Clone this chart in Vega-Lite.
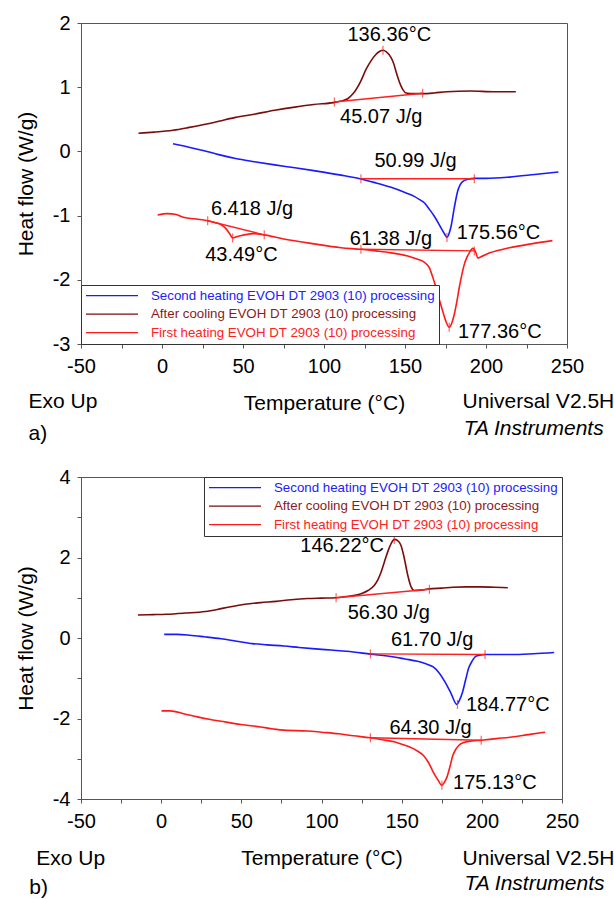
{
  "$schema": "https://vega.github.io/schema/vega-lite/v6.json",
  "padding": {"left": 14, "top": 12, "right": 0, "bottom": 0},
  "spacing": 21,
  "datasets": {
    "curvesA": [
      {"s":"cooling","T":-14.5,"v":0.283},{"s":"cooling","T":-5,"v":0.30},{"s":"cooling","T":6.8,"v":0.33},{"s":"cooling","T":16,"v":0.37},{"s":"cooling","T":26,"v":0.42},{"s":"cooling","T":35,"v":0.47},{"s":"cooling","T":45.4,"v":0.53},{"s":"cooling","T":57,"v":0.58},{"s":"cooling","T":69.6,"v":0.64},{"s":"cooling","T":82,"v":0.69},{"s":"cooling","T":93.7,"v":0.73},{"s":"cooling","T":105.8,"v":0.76},{"s":"cooling","T":110,"v":0.78},{"s":"cooling","T":114.6,"v":0.82},{"s":"cooling","T":118,"v":0.90},{"s":"cooling","T":122.8,"v":1.10},{"s":"cooling","T":126,"v":1.28},{"s":"cooling","T":129,"v":1.41},{"s":"cooling","T":132,"v":1.51},{"s":"cooling","T":134.5,"v":1.56},{"s":"cooling","T":136.4,"v":1.575},{"s":"cooling","T":138.5,"v":1.55},{"s":"cooling","T":141.4,"v":1.46},{"s":"cooling","T":143,"v":1.37},{"s":"cooling","T":144.4,"v":1.25},{"s":"cooling","T":146,"v":1.12},{"s":"cooling","T":147.5,"v":1.02},{"s":"cooling","T":149,"v":0.95},{"s":"cooling","T":150.6,"v":0.91},{"s":"cooling","T":155,"v":0.90},{"s":"cooling","T":161,"v":0.90},{"s":"cooling","T":168,"v":0.91},{"s":"cooling","T":175.8,"v":0.93},{"s":"cooling","T":190.3,"v":0.94},{"s":"cooling","T":205,"v":0.93},{"s":"cooling","T":218.4,"v":0.93},
      {"s":"second","T":6.8,"v":0.12},{"s":"second","T":16,"v":0.07},{"s":"second","T":26,"v":0.01},{"s":"second","T":35,"v":-0.05},{"s":"second","T":45.4,"v":-0.11},{"s":"second","T":57,"v":-0.16},{"s":"second","T":69.6,"v":-0.21},{"s":"second","T":82,"v":-0.255},{"s":"second","T":93.7,"v":-0.30},{"s":"second","T":110.5,"v":-0.37},{"s":"second","T":122.8,"v":-0.43},{"s":"second","T":132,"v":-0.49},{"s":"second","T":141.4,"v":-0.56},{"s":"second","T":150,"v":-0.64},{"s":"second","T":155.7,"v":-0.70},{"s":"second","T":159,"v":-0.75},{"s":"second","T":161.9,"v":-0.80},{"s":"second","T":165,"v":-0.90},{"s":"second","T":168.1,"v":-1.01},{"s":"second","T":172.2,"v":-1.19},{"s":"second","T":174.5,"v":-1.29},{"s":"second","T":175.9,"v":-1.34},{"s":"second","T":177.2,"v":-1.28},{"s":"second","T":178.4,"v":-1.17},{"s":"second","T":180.4,"v":-0.88},{"s":"second","T":182.5,"v":-0.62},{"s":"second","T":184,"v":-0.52},{"s":"second","T":185.6,"v":-0.47},{"s":"second","T":188.7,"v":-0.435},{"s":"second","T":192.8,"v":-0.42},{"s":"second","T":200,"v":-0.42},{"s":"second","T":214.5,"v":-0.40},{"s":"second","T":230,"v":-0.36},{"s":"second","T":244.7,"v":-0.32},
      {"s":"first","T":-2.7,"v":-0.99},{"s":"first","T":3.5,"v":-0.97},{"s":"first","T":8,"v":-0.98},{"s":"first","T":13.8,"v":-1.03},{"s":"first","T":20,"v":-1.05},{"s":"first","T":28.2,"v":-1.08},{"s":"first","T":33,"v":-1.11},{"s":"first","T":36.4,"v":-1.14},{"s":"first","T":38.5,"v":-1.18},{"s":"first","T":40.6,"v":-1.24},{"s":"first","T":42.2,"v":-1.30},{"s":"first","T":43.6,"v":-1.35},{"s":"first","T":46,"v":-1.33},{"s":"first","T":50.8,"v":-1.30},{"s":"first","T":57,"v":-1.28},{"s":"first","T":63.1,"v":-1.30},{"s":"first","T":74.4,"v":-1.36},{"s":"first","T":93.7,"v":-1.44},{"s":"first","T":110.5,"v":-1.50},{"s":"first","T":122.8,"v":-1.525},{"s":"first","T":132,"v":-1.55},{"s":"first","T":141.4,"v":-1.58},{"s":"first","T":151.7,"v":-1.63},{"s":"first","T":157.8,"v":-1.68},{"s":"first","T":160.9,"v":-1.71},{"s":"first","T":163,"v":-1.75},{"s":"first","T":165,"v":-1.81},{"s":"first","T":167,"v":-1.95},{"s":"first","T":169.1,"v":-2.12},{"s":"first","T":171.2,"v":-2.31},{"s":"first","T":173.3,"v":-2.49},{"s":"first","T":175.3,"v":-2.65},{"s":"first","T":177.3,"v":-2.74},{"s":"first","T":178.8,"v":-2.68},{"s":"first","T":180.4,"v":-2.54},{"s":"first","T":182,"v":-2.34},{"s":"first","T":183.5,"v":-2.12},{"s":"first","T":185,"v":-1.93},{"s":"first","T":186.6,"v":-1.76},{"s":"first","T":188.2,"v":-1.65},{"s":"first","T":189.7,"v":-1.58},{"s":"first","T":191.8,"v":-1.51},{"s":"first","T":193.8,"v":-1.58},{"s":"first","T":194.9,"v":-1.66},{"s":"first","T":197,"v":-1.64},{"s":"first","T":202.4,"v":-1.58},{"s":"first","T":214.5,"v":-1.50},{"s":"first","T":228,"v":-1.44},{"s":"first","T":241,"v":-1.39}
    ],
    "basesA": [
      {"seg":"c","T":106.4,"v":0.77},{"seg":"c","T":160.9,"v":0.905},
      {"seg":"s","T":122.8,"v":-0.425},{"seg":"s","T":192.8,"v":-0.425},
      {"seg":"f1","T":28.2,"v":-1.08},{"seg":"f1","T":63.1,"v":-1.30},
      {"seg":"f2","T":122.8,"v":-1.525},{"seg":"f2","T":192.8,"v":-1.55}
    ],
    "ticksA": [
      {"T":106.4,"v":0.77},{"T":160.9,"v":0.905},{"T":136.4,"v":1.575},
      {"T":122.8,"v":-0.425},{"T":192.8,"v":-0.425},{"T":175.9,"v":-1.34},
      {"T":28.2,"v":-1.08},{"T":63.1,"v":-1.30},{"T":43.6,"v":-1.35},
      {"T":122.8,"v":-1.525},{"T":192.8,"v":-1.55},{"T":177.3,"v":-2.74}
    ],
    "labelsA": [
      {"T":140.3,"v":1.81,"label":"136.36°C"},
      {"T":135.3,"v":0.53,"label":"45.07 J/g"},
      {"T":156.5,"v":-0.15,"label":"50.99 J/g"},
      {"T":207.7,"v":-1.27,"label":"175.56°C"},
      {"T":55.6,"v":-0.90,"label":"6.418 J/g"},
      {"T":49,"v":-1.61,"label":"43.49°C"},
      {"T":141.3,"v":-1.36,"label":"61.38 J/g"},
      {"T":208.5,"v":-2.82,"label":"177.36°C"}
    ],
    "footA": [
      {"T":-82.4,"v":-3.90,"label":"Exo Up"},
      {"T":185.5,"v":-3.90,"label":"Universal V2.5H"},
      {"T":-82.4,"v":-4.40,"label":"a)"}
    ],
    "footItA": [{"T":186.2,"v":-4.32,"label":"TA Instruments"}],
    "curvesB": [
      {"s":"cooling","T":-14.5,"v":0.57},{"s":"cooling","T":-5,"v":0.58},{"s":"cooling","T":3.1,"v":0.59},{"s":"cooling","T":15,"v":0.62},{"s":"cooling","T":27.6,"v":0.66},{"s":"cooling","T":35,"v":0.71},{"s":"cooling","T":42.3,"v":0.77},{"s":"cooling","T":52.1,"v":0.84},{"s":"cooling","T":62,"v":0.88},{"s":"cooling","T":71.7,"v":0.91},{"s":"cooling","T":81,"v":0.95},{"s":"cooling","T":91.3,"v":0.98},{"s":"cooling","T":100,"v":0.99},{"s":"cooling","T":109.1,"v":1.0},{"s":"cooling","T":115,"v":1.03},{"s":"cooling","T":120.7,"v":1.06},{"s":"cooling","T":124.7,"v":1.10},{"s":"cooling","T":129,"v":1.18},{"s":"cooling","T":133,"v":1.31},{"s":"cooling","T":135.2,"v":1.45},{"s":"cooling","T":137.2,"v":1.64},{"s":"cooling","T":139.3,"v":1.90},{"s":"cooling","T":141.3,"v":2.14},{"s":"cooling","T":143.5,"v":2.35},{"s":"cooling","T":145.4,"v":2.45},{"s":"cooling","T":147.5,"v":2.42},{"s":"cooling","T":149.6,"v":2.30},{"s":"cooling","T":151.7,"v":1.97},{"s":"cooling","T":153.8,"v":1.56},{"s":"cooling","T":155.9,"v":1.27},{"s":"cooling","T":157.9,"v":1.18},{"s":"cooling","T":162,"v":1.19},{"s":"cooling","T":167.2,"v":1.22},{"s":"cooling","T":175,"v":1.24},{"s":"cooling","T":181.9,"v":1.26},{"s":"cooling","T":190,"v":1.27},{"s":"cooling","T":199.1,"v":1.27},{"s":"cooling","T":208,"v":1.26},{"s":"cooling","T":216.2,"v":1.25},
      {"s":"second","T":1.9,"v":0.09},{"s":"second","T":10,"v":0.09},{"s":"second","T":17.8,"v":0.07},{"s":"second","T":27,"v":0.03},{"s":"second","T":37.4,"v":-0.02},{"s":"second","T":47,"v":-0.08},{"s":"second","T":57,"v":-0.14},{"s":"second","T":66,"v":-0.17},{"s":"second","T":76.6,"v":-0.20},{"s":"second","T":86,"v":-0.235},{"s":"second","T":96.2,"v":-0.27},{"s":"second","T":106,"v":-0.30},{"s":"second","T":115.8,"v":-0.33},{"s":"second","T":130.5,"v":-0.40},{"s":"second","T":145.2,"v":-0.47},{"s":"second","T":152,"v":-0.52},{"s":"second","T":159.9,"v":-0.58},{"s":"second","T":165,"v":-0.64},{"s":"second","T":169.7,"v":-0.72},{"s":"second","T":173,"v":-0.85},{"s":"second","T":177,"v":-1.09},{"s":"second","T":180.5,"v":-1.35},{"s":"second","T":184.4,"v":-1.65},{"s":"second","T":186,"v":-1.55},{"s":"second","T":188,"v":-1.34},{"s":"second","T":190,"v":-1.02},{"s":"second","T":191.7,"v":-0.76},{"s":"second","T":194,"v":-0.57},{"s":"second","T":196.6,"v":-0.45},{"s":"second","T":202,"v":-0.41},{"s":"second","T":210,"v":-0.41},{"s":"second","T":218.7,"v":-0.41},{"s":"second","T":232,"v":-0.39},{"s":"second","T":245.1,"v":-0.36},
      {"s":"first","T":0.2,"v":-1.81},{"s":"first","T":5.6,"v":-1.81},{"s":"first","T":14,"v":-1.88},{"s":"first","T":22.7,"v":-1.96},{"s":"first","T":30,"v":-2.02},{"s":"first","T":37.4,"v":-2.07},{"s":"first","T":49.7,"v":-2.15},{"s":"first","T":61.9,"v":-2.21},{"s":"first","T":70,"v":-2.26},{"s":"first","T":76.6,"v":-2.29},{"s":"first","T":91.3,"v":-2.31},{"s":"first","T":100,"v":-2.34},{"s":"first","T":110.9,"v":-2.38},{"s":"first","T":120,"v":-2.43},{"s":"first","T":130.5,"v":-2.48},{"s":"first","T":138,"v":-2.53},{"s":"first","T":145.2,"v":-2.58},{"s":"first","T":150,"v":-2.64},{"s":"first","T":155,"v":-2.71},{"s":"first","T":159.5,"v":-2.80},{"s":"first","T":163.6,"v":-2.92},{"s":"first","T":166.8,"v":-3.10},{"s":"first","T":169.7,"v":-3.33},{"s":"first","T":172.5,"v":-3.52},{"s":"first","T":175.1,"v":-3.66},{"s":"first","T":176.7,"v":-3.58},{"s":"first","T":178.3,"v":-3.45},{"s":"first","T":180.1,"v":-3.20},{"s":"first","T":181.9,"v":-2.92},{"s":"first","T":183.7,"v":-2.77},{"s":"first","T":185.6,"v":-2.67},{"s":"first","T":188.5,"v":-2.60},{"s":"first","T":191.7,"v":-2.57},{"s":"first","T":199.6,"v":-2.54},{"s":"first","T":209,"v":-2.50},{"s":"first","T":218.7,"v":-2.46},{"s":"first","T":229,"v":-2.40},{"s":"first","T":239.5,"v":-2.34}
    ],
    "basesB": [
      {"seg":"c","T":109.1,"v":1.0},{"seg":"c","T":167.3,"v":1.21},
      {"seg":"s","T":130.5,"v":-0.395},{"seg":"s","T":202,"v":-0.41},
      {"seg":"f","T":130.5,"v":-2.48},{"seg":"f","T":199.6,"v":-2.54}
    ],
    "ticksB": [
      {"T":109.1,"v":1.0},{"T":167.3,"v":1.21},{"T":145.4,"v":2.45},
      {"T":130.5,"v":-0.395},{"T":202,"v":-0.41},{"T":184.8,"v":-1.65},
      {"T":130.5,"v":-2.48},{"T":199.6,"v":-2.54},{"T":175.1,"v":-3.66}
    ],
    "labelsB": [
      {"T":112.9,"v":2.29,"label":"146.22°C"},
      {"T":142,"v":0.62,"label":"56.30 J/g"},
      {"T":169,"v":-0.04,"label":"61.70 J/g"},
      {"T":216.2,"v":-1.67,"label":"184.77°C"},
      {"T":168,"v":-2.24,"label":"64.30 J/g"},
      {"T":208.1,"v":-3.60,"label":"175.13°C"}
    ],
    "footB": [
      {"T":-77.9,"v":-5.49,"label":"Exo Up"},
      {"T":188,"v":-5.49,"label":"Universal V2.5H"},
      {"T":-82.3,"v":-6.2,"label":"b)"}
    ],
    "footItB": [{"T":189.2,"v":-6.11,"label":"TA Instruments"}]
  },
  "vconcat": [
    {
      "width": 486,
      "height": 321,
      "layer": [
        {
          "data": {"name": "curvesA"},
          "mark": {"type": "line", "strokeWidth": 1.6, "interpolate": "monotone"},
          "encoding": {
            "x": {"field": "T", "type": "quantitative", "title": "Temperature (°C)",
              "scale": {"domain": [-50, 250], "nice": false, "zero": false},
              "axis": {"values": [-50,-25,0,25,50,75,100,125,150,175,200,225,250], "labelExpr": "datum.value % 50 === 0 ? '' + datum.value : ''"}},
            "y": {"field": "v", "type": "quantitative", "title": "Heat flow (W/g)",
              "scale": {"domain": [-3, 2], "nice": false, "zero": false},
              "axis": {"values": [-3,-2.5,-2,-1.5,-1,-0.5,0,0.5,1,1.5,2], "labelExpr": "datum.value % 1 === 0 ? '' + datum.value : ''"}},
            "color": {"field": "s", "type": "nominal",
              "scale": {"domain": ["second", "cooling", "first"], "range": ["#1a1aff", "#7a0c0c", "#ff1a1a"]},
              "legend": {"orient": "bottom-left",
                "labelExpr": "datum.value === 'second' ? 'Second heating EVOH DT 2903 (10) processing' : datum.value === 'cooling' ? 'After cooling EVOH DT 2903 (10) processing' : 'First heating EVOH DT 2903 (10) processing'",
                "encode": {"labels": {"update": {"fill": {"signal": "datum.value === 'second' ? '#2020ff' : datum.value === 'cooling' ? '#8b1a1a' : '#ff2020'"}}}}}}
          }
        },
        {
          "data": {"name": "basesA"},
          "mark": {"type": "line", "color": "#ff2020", "strokeWidth": 1.4},
          "encoding": {"x": {"field": "T", "type": "quantitative"}, "y": {"field": "v", "type": "quantitative"}, "detail": {"field": "seg"}}
        },
        {
          "data": {"name": "ticksA"},
          "mark": {"type": "tick", "orient": "vertical", "color": "#ff2020", "size": 9, "thickness": 1.2},
          "encoding": {"x": {"field": "T", "type": "quantitative"}, "y": {"field": "v", "type": "quantitative"}}
        },
        {
          "data": {"name": "labelsA"},
          "mark": {"type": "text", "fontSize": 20, "color": "#000"},
          "encoding": {"x": {"field": "T", "type": "quantitative"}, "y": {"field": "v", "type": "quantitative"}, "text": {"field": "label"}}
        },
        {
          "data": {"name": "footA"},
          "mark": {"type": "text", "fontSize": 21, "align": "left", "color": "#000"},
          "encoding": {"x": {"field": "T", "type": "quantitative"}, "y": {"field": "v", "type": "quantitative"}, "text": {"field": "label"}}
        },
        {
          "data": {"name": "footItA"},
          "mark": {"type": "text", "fontSize": 21, "align": "left", "fontStyle": "italic", "color": "#000"},
          "encoding": {"x": {"field": "T", "type": "quantitative"}, "y": {"field": "v", "type": "quantitative"}, "text": {"field": "label"}}
        }
      ]
    },
    {
      "width": 481,
      "height": 322,
      "layer": [
        {
          "data": {"name": "curvesB"},
          "mark": {"type": "line", "strokeWidth": 1.6, "interpolate": "monotone"},
          "encoding": {
            "x": {"field": "T", "type": "quantitative", "title": "Temperature (°C)",
              "scale": {"domain": [-50, 250], "nice": false, "zero": false},
              "axis": {"values": [-50,-25,0,25,50,75,100,125,150,175,200,225,250], "labelExpr": "datum.value % 50 === 0 ? '' + datum.value : ''"}},
            "y": {"field": "v", "type": "quantitative", "title": "Heat flow (W/g)",
              "scale": {"domain": [-4, 4], "nice": false, "zero": false},
              "axis": {"values": [-4,-3,-2,-1,0,1,2,3,4], "labelExpr": "datum.value % 2 === 0 ? '' + datum.value : ''"}},
            "color": {"field": "s", "type": "nominal",
              "scale": {"domain": ["second", "cooling", "first"], "range": ["#1a1aff", "#7a0c0c", "#ff1a1a"]},
              "legend": {"orient": "top-right",
                "labelExpr": "datum.value === 'second' ? 'Second heating EVOH DT 2903 (10) processing' : datum.value === 'cooling' ? 'After cooling EVOH DT 2903 (10) processing' : 'First heating  EVOH DT 2903 (10) processing'",
                "encode": {"labels": {"update": {"fill": {"signal": "datum.value === 'second' ? '#2020ff' : datum.value === 'cooling' ? '#8b1a1a' : '#ff2020'"}}}}}}
          }
        },
        {
          "data": {"name": "basesB"},
          "mark": {"type": "line", "color": "#ff2020", "strokeWidth": 1.4},
          "encoding": {"x": {"field": "T", "type": "quantitative"}, "y": {"field": "v", "type": "quantitative"}, "detail": {"field": "seg"}}
        },
        {
          "data": {"name": "ticksB"},
          "mark": {"type": "tick", "orient": "vertical", "color": "#ff2020", "size": 9, "thickness": 1.2},
          "encoding": {"x": {"field": "T", "type": "quantitative"}, "y": {"field": "v", "type": "quantitative"}}
        },
        {
          "data": {"name": "labelsB"},
          "mark": {"type": "text", "fontSize": 20, "color": "#000"},
          "encoding": {"x": {"field": "T", "type": "quantitative"}, "y": {"field": "v", "type": "quantitative"}, "text": {"field": "label"}}
        },
        {
          "data": {"name": "footB"},
          "mark": {"type": "text", "fontSize": 21, "align": "left", "color": "#000"},
          "encoding": {"x": {"field": "T", "type": "quantitative"}, "y": {"field": "v", "type": "quantitative"}, "text": {"field": "label"}}
        },
        {
          "data": {"name": "footItB"},
          "mark": {"type": "text", "fontSize": 21, "align": "left", "fontStyle": "italic", "color": "#000"},
          "encoding": {"x": {"field": "T", "type": "quantitative"}, "y": {"field": "v", "type": "quantitative"}, "text": {"field": "label"}}
        }
      ]
    }
  ],
  "resolve": {"scale": {"color": "independent"}, "legend": {"color": "independent"}},
  "config": {
    "font": "Liberation Sans",
    "view": {"stroke": "#555", "strokeWidth": 1},
    "axis": {"grid": false, "domainColor": "#555", "tickColor": "#555", "tickSize": 4,
      "labelFont": "Liberation Sans", "labelFontSize": 20, "labelColor": "#000", "labelOverlap": false, "labelFlush": false,
      "titleFont": "Liberation Sans", "titleFontSize": 21, "titleFontWeight": "normal", "titleColor": "#000"},
    "axisX": {"labelPadding": 8, "titlePadding": 16},
    "axisY": {"labelPadding": 7, "titlePadding": 16},
    "legend": {"offset": 0, "title": null, "symbolType": "stroke", "symbolSize": 2704, "symbolStrokeWidth": 1.2,
      "labelFont": "Liberation Sans", "labelFontSize": 13.3, "labelLimit": 500, "labelOffset": 12, "padding": 4,
      "rowPadding": 3.5, "strokeColor": "#333", "fillColor": "white", "clipHeight": 13.3},
    "text": {"font": "Liberation Sans"}
  }
}
